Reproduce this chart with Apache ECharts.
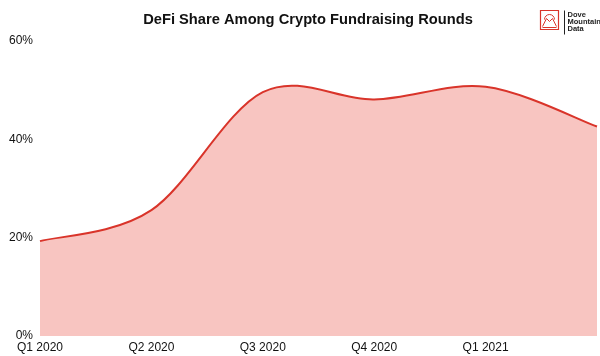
<!DOCTYPE html>
<html><head><meta charset="utf-8">
<script src="https://cdn.jsdelivr.net/npm/echarts@6/dist/echarts.min.js"></script>
<style>html,body{margin:0;padding:0;background:#fff}#c{width:600px;height:356px}</style>
</head><body><div id="c"></div>
<script>
var categories = ['Q1 2020','Q2 2020','Q3 2020','Q4 2020','Q1 2021','Q2 2021'];
var defiShare = [19.3, 25.6, 49.6, 48.1, 50.7, 42.6];
var yTicks = [0, 20, 40, 60];

var LINE_COLOR = '#d9342a';
var AREA_COLOR = '#f8c5c1';

function renderCurve(params, api) {
  if (params.dataIndex !== 0) return null;
  var n = defiShare.length;
  var pts = [];
  for (var i = 0; i < n; i++) pts.push(api.coord([i, api.value(1, i)]));
  var base = api.coord([0, yTicks[0]])[1];
  var d = 'M' + pts[0][0] + ' ' + pts[0][1];
  for (var k = 0; k < n - 1; k++) {
    var p0 = pts[Math.max(k - 1, 0)], p1 = pts[k], p2 = pts[k + 1], p3 = pts[Math.min(k + 2, n - 1)];
    var c1x = p1[0] + (p2[0] - p0[0]) / 6, c1y = p1[1] + (p2[1] - p0[1]) / 6;
    var c2x = p2[0] - (p3[0] - p1[0]) / 6, c2y = p2[1] - (p3[1] - p1[1]) / 6;
    d += ' C' + c1x + ' ' + c1y + ' ' + c2x + ' ' + c2y + ' ' + p2[0] + ' ' + p2[1];
  }
  var area = d + ' L' + pts[n - 1][0] + ' ' + base + ' L' + pts[0][0] + ' ' + base + ' Z';
  return {
    type: 'group',
    children: [
      {type: 'path', shape: {pathData: area}, style: {fill: AREA_COLOR, stroke: null}},
      {type: 'path', shape: {pathData: d}, style: {fill: 'none', stroke: LINE_COLOR, lineWidth: 2}}
    ]
  };
}

var chart = echarts.init(document.getElementById('c'));
chart.setOption({
  animation: false,
  title: {
    text: 'DeFi Share Among Crypto Fundraising Rounds',
    left: 303, top: 7, textAlign: 'center',
    textStyle: {fontFamily: 'Liberation Sans, Arial', fontSize: 14.7, fontWeight: 'bold', color: '#111'}
  },
  grid: {left: 40, right: 3, top: 41, bottom: 20, containLabel: false},
  xAxis: {
    type: 'category', data: categories, boundaryGap: false,
    axisLine: {show: false}, axisTick: {show: false},
    axisLabel: {
      color: '#111', fontFamily: 'Liberation Sans, Arial', fontSize: 12, margin: 6,
      formatter: function (v, i) { return i === categories.length - 1 ? '' : v; }
    },
    splitLine: {show: false}
  },
  yAxis: {
    type: 'value', min: yTicks[0], max: yTicks[yTicks.length - 1], interval: 20,
    axisLine: {show: false}, axisTick: {show: false},
    axisLabel: {color: '#111', fontFamily: 'Liberation Sans, Arial', fontSize: 12, margin: 7, formatter: '{value}%'},
    splitLine: {show: false}
  },
  series: [{
    type: 'custom',
    coordinateSystem: 'cartesian2d',
    data: defiShare.map(function (v, i) { return [i, v]; }),
    encode: {x: 0, y: 1},
    renderItem: renderCurve
  }],
  graphic: [
    {type: 'group', left: 538, top: 8, children: [
      {type: 'rect', shape: {x: 0, y: 0, width: 18, height: 19}, style: {fill: 'none', stroke: LINE_COLOR, lineWidth: 1.2}},
      {type: 'polyline', shape: {points: [[2,16],[6,8],[9,11],[12,8],[16,16]]}, style: {fill: 'none', stroke: LINE_COLOR, lineWidth: 1}},
      {type: 'arc', shape: {cx: 9, cy: 9, r: 5, startAngle: Math.PI, endAngle: 0}, style: {fill: 'none', stroke: LINE_COLOR, lineWidth: 1}},
      {type: 'line', shape: {x1: 2, y1: 17, x2: 16, y2: 17}, style: {stroke: LINE_COLOR, lineWidth: 1}},
      {type: 'line', shape: {x1: 24, y1: 0, x2: 24, y2: 24}, style: {stroke: '#222', lineWidth: 1}},
      {type: 'text', x: 27, y: 1, style: {text: 'Dove\nMountain\nData', font: 'bold 7.5px Liberation Sans, Arial', fill: '#222', lineHeight: 7}}
    ]}
  ]
});
</script></body></html>
